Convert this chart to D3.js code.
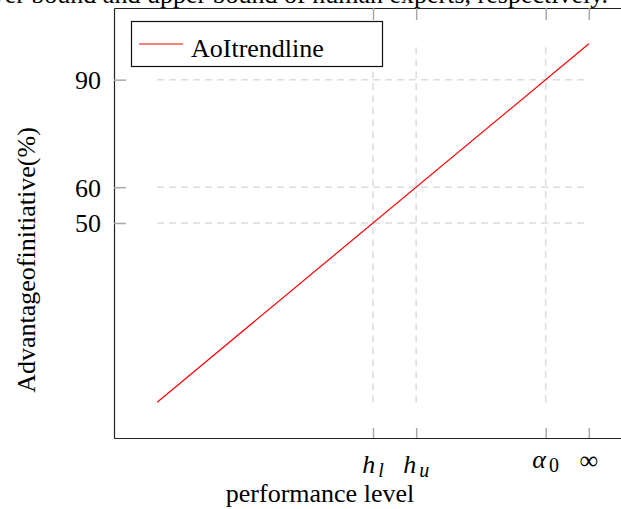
<!DOCTYPE html>
<html>
<head>
<meta charset="utf-8">
<script src="https://cdn.jsdelivr.net/npm/d3@7"></script>
<style>
body { margin: 0; background: #fff; }
svg { display: block; overflow: hidden; }
text { font-family: "Liberation Serif", "Times New Roman", serif; }
</style>
</head>
<body>
<script>
// trend line end points (x = performance level, y = advantage %)
const trendX = [0, 100]
const trendY = [0, 100]

const xTicks = [50, 60, 90, 100]
const xTickMain = ["h", "h", "α", "∞"]
const xTickSub = ["l", "u", "0", ""]
const yTicks = [50, 60, 90]
const gridX = [50, 60, 90]
const gridY = [50, 60, 90]
const xDomain = [-10, 110]
const yDomain = [-10, 110]

const legendLabel = "AoItrendline"
const xTitle = "performance level"
const yTitle = "Advantageofinitiative(%)"
const caption = "lower bound and upper bound of human experts, respectively."

let W = 621, H = 509
let plot = { left: 114, top: 8, right: 632, bottom: 438 }

let svg = d3.select("body").append("svg")
    .attr("width", W)
    .attr("height", H)

let x = d3.scaleLinear().domain(xDomain).range([plot.left, plot.right])
let y = d3.scaleLinear().domain(yDomain).range([plot.bottom, plot.top])

// caption text cut off at the top of the figure
svg.append("text")
    .attr("x", 608).attr("y", 3)
    .attr("text-anchor", "end")
    .attr("font-size", 26)
    .text(caption)

// dashed grid, only across the data range
let grid = svg.append("g")
    .attr("stroke", "#dcdcdc")
    .attr("stroke-width", 1.5)
    .attr("stroke-dasharray", "7,5")
grid.selectAll(".gy").data(gridY).enter().append("line")
    .attr("x1", x(d3.min(trendX))).attr("x2", x(d3.max(trendX)))
    .attr("y1", d => y(d)).attr("y2", d => y(d))
grid.selectAll(".gx").data(gridX).enter().append("line")
    .attr("y1", y(d3.min(trendY))).attr("y2", y(d3.max(trendY)))
    .attr("x1", d => x(d)).attr("x2", d => x(d))

// axes (ticks point inwards, pgfplots style)
let gBottom = svg.append("g")
    .attr("transform", "translate(0," + plot.bottom + ")")
    .call(d3.axisBottom(x).tickValues(xTicks).tickSize(-10).tickSizeOuter(0).tickFormat(""))
let gTop = svg.append("g")
    .attr("transform", "translate(0," + plot.top + ")")
    .call(d3.axisTop(x).tickValues(xTicks).tickSize(-12).tickSizeOuter(0).tickFormat(""))
let gLeft = svg.append("g")
    .attr("transform", "translate(" + plot.left + ",0)")
    .call(d3.axisLeft(y).tickValues(yTicks).tickSize(-12).tickSizeOuter(0).tickPadding(13))

svg.selectAll(".domain").attr("stroke", "#222").attr("stroke-width", 1.2)
svg.selectAll(".tick line").attr("stroke", "#a8a8a8").attr("stroke-width", 1.5)
gLeft.selectAll(".tick text")
    .attr("font-size", 26)
    .attr("font-family", "Liberation Serif")
    .attr("fill", "#000")
    .attr("dy", "0.34em")

// x tick labels with subscripts, tops aligned like the TeX labels
let ctx = document.createElement("canvas").getContext("2d")
function inkAscent(txt, font) {
    ctx.font = font
    return ctx.measureText(txt).actualBoundingBoxAscent
}
let labelTop = 456
xTicks.forEach(function (v, i) {
    let main = xTickMain[i], sub = xTickSub[i]
    let mainItalic = main !== "∞"
    let mainFont = (mainItalic ? "italic " : "") + "26px 'Liberation Serif'"
    let base = labelTop + inkAscent(main, mainFont)
    let t = svg.append("text")
        .attr("x", x(v))
        .attr("y", base)
        .attr("text-anchor", "middle")
        .attr("font-size", 26)
    t.append("tspan")
        .attr("font-style", mainItalic ? "italic" : "normal")
        .text(main)
    if (sub) {
        t.append("tspan")
            .attr("dx", 3)
            .attr("dy", 4)
            .attr("font-size", 20)
            .attr("font-style", /[0-9]/.test(sub) ? "normal" : "italic")
            .text(sub)
    }
})

// trend line
let line = d3.line()
    .x(function (d, i) { return x(trendX[i]) })
    .y(function (d, i) { return y(trendY[i]) })
svg.append("path")
    .datum(trendX)
    .attr("d", line)
    .attr("fill", "none")
    .attr("stroke", "#ff0000")
    .attr("stroke-width", 1.2)

// legend
let leg = svg.append("g")
leg.append("rect")
    .attr("x", 131.5).attr("y", 21.5)
    .attr("width", 251).attr("height", 45)
    .attr("fill", "#fff")
    .attr("stroke", "#111")
    .attr("stroke-width", 1.2)
leg.append("line")
    .attr("x1", 139).attr("x2", 183)
    .attr("y1", 44).attr("y2", 44)
    .attr("stroke", "#ff0000")
    .attr("stroke-width", 1.2)
leg.append("text")
    .attr("x", 191).attr("y", 57)
    .attr("font-size", 26)
    .text(legendLabel)

// axis titles
svg.append("text")
    .attr("x", 320).attr("y", 502)
    .attr("text-anchor", "middle")
    .attr("font-size", 26)
    .text(xTitle)
svg.append("text")
    .attr("transform", "translate(35,260) rotate(-90)")
    .attr("text-anchor", "middle")
    .attr("font-size", 26)
    .text(yTitle)
</script>
</body>
</html>
